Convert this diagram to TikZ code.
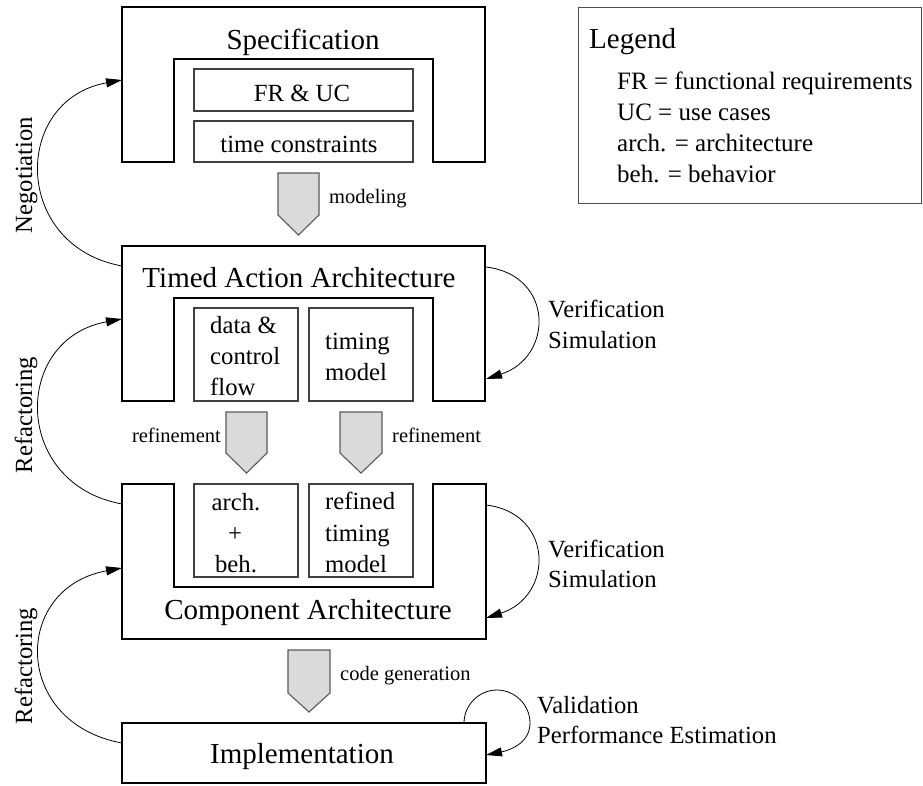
\documentclass[tikz,border=0pt]{standalone}
\usepackage{fontspec}
\setmainfont{Liberation Serif}
\usetikzlibrary{arrows.meta}
\definecolor{blockgray}{HTML}{D9DAD9}
\begin{document}
\begin{tikzpicture}[x=1pt,y=-1pt,
  block/.style={line width=2.4pt, draw=black},
  inbox/.style={line width=1.2pt, draw=black!75},
  barrow/.style={fill=blockgray, draw=black!65, line width=1.1pt},
  conn/.style={line width=0.8pt, -{Triangle[length=16pt,width=9pt]}},
  title/.style={font=\fontsize{29}{34}\selectfont, inner sep=0pt},
  txt/.style={font=\fontsize{24.7}{30}\selectfont, inner sep=0pt},
  small/.style={font=\fontsize{20.5}{24}\selectfont, inner sep=0pt},
  side/.style={txt, rotate=90, anchor=base}]
\useasboundingbox (0,0) rectangle (923,785);

% ---------- Specification ----------
\draw[block] (122,7) -- (485,7) -- (485,162) -- (433,162) -- (433,59) -- (174,59) -- (174,162) -- (122,162) -- cycle;
\node[title, anchor=base] (specT) at (303,49) {Specification};
\draw[inbox] (194,69) rectangle (413,111);
\draw[inbox] (194,121) rectangle (413,162);
\node[txt, anchor=base] (fruc) at (302,101) {FR \& UC};
\node[txt, anchor=base] (tcon) at (299,152) {time constraints};

% modeling arrow
\draw[barrow] (278,173) -- (319,173) -- (319,215) -- (298.5,235) -- (278,215) -- cycle;
\node[small, anchor=base west] (modl) at (329,203) {modeling};

% ---------- Timed Action Architecture ----------
\draw[block] (122,246) -- (485,246) -- (485,401) -- (433,401) -- (433,298) -- (174,298) -- (174,401) -- (122,401) -- cycle;
\node[title, anchor=base] (taaT) at (299,287) {Timed Action Architecture};
\draw[inbox] (194,308) rectangle (298,401);
\draw[inbox] (309,308) rectangle (413,401);
\node[txt, anchor=base west] (dc1) at (210,333) {data \&};
\node[txt, anchor=base west] (dc2) at (210,364) {control};
\node[txt, anchor=base west] (dc3) at (210,395) {flow};
\node[txt, anchor=base west] (tm1) at (325,349) {timing};
\node[txt, anchor=base west] (tm2) at (325,380) {model};

% refinement arrows
\draw[barrow] (226,412) -- (267,412) -- (267,453) -- (246.5,473) -- (226,453) -- cycle;
\draw[barrow] (340,412) -- (382,412) -- (382,453) -- (361,473) -- (340,453) -- cycle;
\node[small, anchor=base east] (ref1) at (221,442) {refinement};
\node[small, anchor=base west] (ref2) at (392,442) {refinement};

% ---------- Component Architecture ----------
\draw[block] (122,484) -- (174,484) -- (174,587) -- (433,587) -- (433,484) -- (486,484) -- (486,639) -- (122,639) -- cycle;
\draw[inbox] (194,484) rectangle (298,577);
\draw[inbox] (309,484) rectangle (413,577);
\node[txt, anchor=base] (ab1) at (236,510) {arch.};
\node[txt, anchor=base] (ab2) at (235,541) {+};
\node[txt, anchor=base] (ab3) at (236,572) {beh.};
\node[txt, anchor=base west] (rt1) at (325,509) {refined};
\node[txt, anchor=base west] (rt2) at (325,541) {timing};
\node[txt, anchor=base west] (rt3) at (325,572) {model};
\node[title, anchor=base] (caT) at (308,619) {Component Architecture};

% code generation arrow
\draw[barrow] (288,650) -- (330,650) -- (330,693) -- (309,712) -- (288,693) -- cycle;
\node[small, anchor=base west] (cgen) at (340,680) {code generation};

% ---------- Implementation ----------
\draw[block] (122,723) rectangle (486,783);
\node[title, anchor=base] (implT) at (302,763) {Implementation};

% ---------- Legend ----------
\draw[line width=0.9pt, draw=black!70] (578,7) rectangle (921,203);
\node[title, anchor=base west] (legT) at (589,48) {Legend};
\node[font=\fontsize{25}{30}\selectfont, inner sep=0pt, anchor=base west] (lg1) at (617,89) {FR = functional requirements};
\node[font=\fontsize{25}{30}\selectfont, inner sep=0pt, anchor=base west] (lg2) at (617,120) {UC = use cases};
\node[font=\fontsize{25}{30}\selectfont, inner sep=0pt, anchor=base west] (lg3) at (617,151) {arch. = architecture};
\node[font=\fontsize{25}{30}\selectfont, inner sep=0pt, anchor=base west] (lg4) at (617,182) {beh. = behavior};

% ---------- left loops ----------
\coordinate (negS) at (122,266);
\coordinate (negE) at (122,80);
\coordinate (rf1S) at (122,504);
\coordinate (rf1E) at (122,319);
\coordinate (rf2S) at (122,743);
\coordinate (rf2E) at (122,568);
\draw[conn] (negS) .. controls +(-110,-20) and +(-110,20) .. (negE);
\draw[conn] (rf1S) .. controls +(-110,-20) and +(-110,20) .. (rf1E);
\draw[conn] (rf2S) .. controls +(-110,-20) and +(-110,20) .. (rf2E);
\node[side] (negL) at (32,175) {Negotiation};
\node[side] (rfL1) at (32,415) {Refactoring};
\node[side] (rfL2) at (32,666) {Refactoring};

% ---------- right loops ----------
\coordinate (v1S) at (486,267);
\coordinate (v1E) at (486,379);
\coordinate (v2S) at (486,505);
\coordinate (v2E) at (486,618);
\coordinate (vaS) at (464,723);
\coordinate (vaE) at (486,755);
\draw[conn] (v1S) .. controls +(68,8) and +(68,-22) .. (v1E);
\draw[conn] (v2S) .. controls +(68,8) and +(68,-22) .. (v2E);
\draw[conn] (vaS) .. controls +(0,-18) and +(-18,0) .. (497,690)
                  .. controls +(18,0) and +(0,-18) .. (530,723)
                  .. controls +(0,22) and +(20,-4) .. (vaE);
\node[txt, anchor=base west] (vs1) at (548,317) {Verification};
\node[txt, anchor=base west] (vs2) at (548,348) {Simulation};
\node[txt, anchor=base west] (vs3) at (548,557) {Verification};
\node[txt, anchor=base west] (vs4) at (548,587) {Simulation};
\node[txt, anchor=base west] (va1) at (537,713) {Validation};
\node[txt, anchor=base west] (va2) at (537,743) {Performance Estimation};
\end{tikzpicture}
\end{document}
